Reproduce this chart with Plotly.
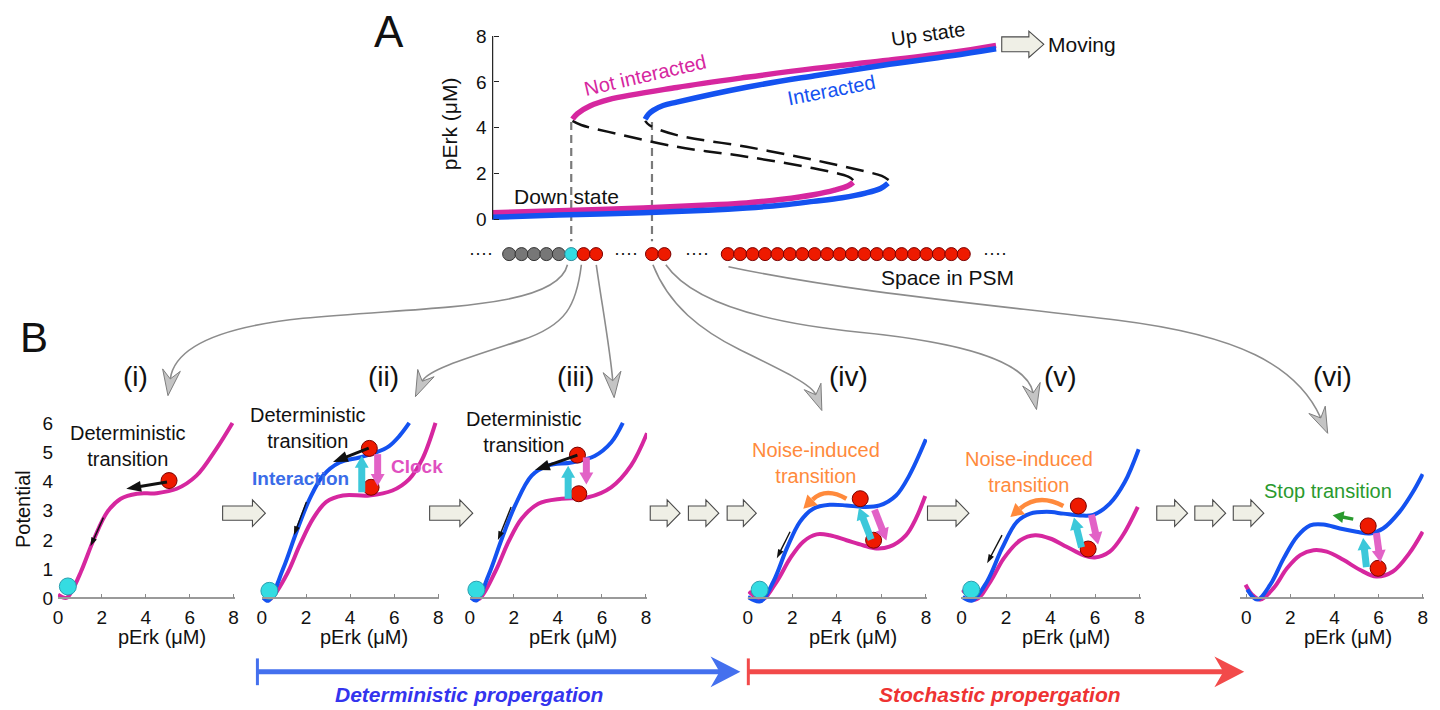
import math
import plotly.graph_objects as go

W, H = 1440, 710


def X(p):
    return p / W


def Y(p):
    return 1 - p / H


FONT = "Liberation Sans, Arial, Helvetica, sans-serif"
MAG = "#D6279F"
BLU = "#1452F0"
RED = "#EE1A00"
CYN = "#34DCE2"
ARR_CYAN = "#3CC8DA"
ARR_PINK = "#E262C6"
ORANGE = "#FF8A3C"
GREEN = "#2A9A2E"

# ---------------- Panel A : bifurcation diagram ----------------
# x = position along the PSM (cell diameters), y = pErk (uM)
a_mag_lo_x = [-0.35, 5.0, 11.8, 17.0, 20.1, 23.0, 25.5, 27.2, 28.3, 28.7]
a_mag_lo_y = [0.29, 0.38, 0.50, 0.63, 0.72, 0.88, 1.08, 1.28, 1.47, 1.62]
a_mag_mid_x = [28.7, 28.3, 25.5, 20.1, 14.5, 9.0, 6.8, 6.1]
a_mag_mid_y = [1.72, 1.87, 2.23, 2.74, 3.17, 3.82, 4.12, 4.30]
a_mag_up_x = [6.1, 6.5, 7.5, 9.0, 14.5, 20.1, 25.6, 31.1, 36.6, 40.2]
a_mag_up_y = [4.38, 4.62, 4.95, 5.23, 5.76, 6.20, 6.59, 6.92, 7.28, 7.59]

a_blu_lo_x = [-0.35, 5.0, 11.8, 17.0, 20.1, 23.0, 25.5, 27.8, 29.7, 30.9, 31.5]
a_blu_lo_y = [0.10, 0.19, 0.29, 0.40, 0.50, 0.63, 0.79, 0.95, 1.15, 1.35, 1.58]
a_blu_mid_x = [31.55, 31.0, 29.7, 25.6, 20.1, 14.5, 12.3, 11.95]
a_blu_mid_y = [1.72, 1.90, 2.09, 2.59, 3.17, 3.68, 4.11, 4.30]
a_blu_up_x = [11.95, 12.2, 12.6, 13.4, 14.5, 20.1, 25.6, 31.1, 36.6, 40.2]
a_blu_up_y = [4.37, 4.58, 4.76, 4.97, 5.12, 5.77, 6.27, 6.73, 7.14, 7.45]

a_yticks = [0, 2, 4, 6, 8]

# cells in the PSM row (positions in cell diameters)
cells_gray_x = [1, 2, 3, 4, 5]
cells_cyan_x = [6]
cells_red_x = [7, 8, 12.5, 13.5,
               18.6, 19.6, 20.6, 21.6, 22.6, 23.6, 24.6, 25.6, 26.6, 27.6,
               28.6, 29.6, 30.6, 31.6, 32.6, 33.6, 34.6, 35.6, 36.6, 37.6]
cells_row_level = -1.51
boundary_x = [6, 12.5]

# ---------------- Panel B : potential landscapes ----------------
b_xticks = [0, 2, 4, 6, 8]
b_yticks = [0, 1, 2, 3, 4, 5, 6]

b1_mag_x = [0.0, 0.38, 0.65, 1.05, 1.65, 2.25, 2.86, 3.6, 4.5, 5.41, 6.31, 7.2, 7.95]
b1_mag_y = [0.13, 0.02, 0.28, 0.92, 2.05, 2.96, 3.41, 3.58, 3.60, 3.75, 4.20, 5.10, 6.00]
b1_red = ([5.06], [4.03])
b1_cyan = ([0.45], [0.41])

b2_mag_x = [0.07, 0.37, 1.12, 1.72, 2.32, 2.92, 3.67, 4.87, 5.92, 6.68, 7.27, 7.87]
b2_mag_y = [0.02, -0.02, 0.81, 1.83, 2.73, 3.30, 3.52, 3.52, 3.69, 4.08, 4.76, 6.00]
b2_blu_x = [0.07, 0.29, 0.97, 1.57, 2.17, 2.77, 3.52, 4.42, 5.17, 5.77, 6.23, 6.68]
b2_blu_y = [0.02, -0.08, 1.03, 2.28, 3.41, 4.20, 4.65, 4.82, 4.99, 5.21, 5.55, 6.00]
b2_red = ([4.87, 4.95], [5.13, 3.80])
b2_cyan = ([0.34], [0.26])

b3_mag_x = [0.1, 0.41, 1.16, 1.76, 2.36, 3.11, 4.17, 5.37, 6.42, 7.32, 8.05]
b3_mag_y = [0.02, -0.02, 0.92, 1.94, 2.73, 3.24, 3.41, 3.46, 3.80, 4.54, 5.65]
b3_blu_x = [0.06, 0.30, 0.86, 1.46, 2.06, 2.81, 3.56, 4.62, 5.67, 6.42, 6.95]
b3_blu_y = [0.02, -0.07, 0.81, 2.05, 3.18, 4.20, 4.54, 4.65, 4.87, 5.33, 6.00]
b3_red = ([4.89, 4.95], [4.90, 3.58])
b3_cyan = ([0.30], [0.30])

b4_mag_x = [0.04, 0.63, 1.3, 1.9, 2.49, 3.09, 3.68, 4.43, 5.17, 5.77, 6.36, 7.1, 7.55, 7.97]
b4_mag_y = [0.24, -0.04, 0.58, 1.37, 1.94, 2.19, 2.16, 1.99, 1.82, 1.71, 1.77, 2.16, 2.73, 3.50]
b4_blu_x = [0.0, 0.56, 1.15, 1.75, 2.34, 2.94, 3.68, 4.43, 5.17, 5.92, 6.66, 7.25, 8.0]
b4_blu_y = [0.05, -0.10, 0.58, 1.71, 2.62, 3.07, 3.20, 3.18, 3.13, 3.18, 3.52, 4.20, 5.44]
b4_red = ([5.05, 5.65], [3.41, 1.99])
b4_cyan = ([0.53], [0.30])

b5_mag_x = [0.04, 0.63, 1.30, 1.90, 2.64, 3.31, 3.98, 4.72, 5.47, 5.99, 6.66, 7.25, 7.92]
b5_mag_y = [0.30, -0.04, 0.58, 1.37, 1.99, 2.16, 2.05, 1.77, 1.48, 1.40, 1.60, 2.16, 3.13]
b5_blu_x = [0.05, 0.48, 1.15, 1.82, 2.49, 3.09, 3.83, 4.58, 5.32, 5.92, 6.66, 7.33, 7.96]
b5_blu_y = [0.05, -0.07, 0.58, 1.71, 2.62, 2.90, 2.96, 2.90, 2.84, 2.86, 3.24, 3.97, 5.10]
b5_red = ([5.25, 5.69], [3.16, 1.69])
b5_cyan = ([0.44], [0.30])

b6_mag_x = [-0.03, 0.27, 0.64, 1.25, 1.85, 2.45, 3.05, 3.65, 4.40, 5.15, 5.90, 6.65, 7.39, 8.0]
b6_mag_y = [0.47, 0.13, -0.04, 0.36, 1.03, 1.48, 1.65, 1.60, 1.32, 0.98, 0.75, 0.92, 1.54, 2.28]
b6_blu_x = [0.05, 0.5, 1.09, 1.70, 2.30, 2.90, 3.50, 4.25, 5.00, 5.60, 6.20, 6.95, 7.55, 8.0]
b6_blu_y = [0.30, -0.04, 0.47, 1.37, 2.11, 2.50, 2.53, 2.39, 2.28, 2.22, 2.39, 2.96, 3.63, 4.25]
b6_red = ([5.53, 5.98], [2.48, 1.03])
b6_cyan = ([], [])

panel_labels = ["(i)", "(ii)", "(iii)", "(iv)", "(v)", "(vi)"]

# ---------------- figure ----------------
fig = go.Figure()


def add_line(x, y, xa, ya, color, width, dash=None):
    fig.add_trace(go.Scatter(
        x=x, y=y, xaxis=xa, yaxis=ya, mode="lines",
        line=dict(color=color, width=width, shape="spline", smoothing=1.0, dash=dash),
        hoverinfo="skip", showlegend=False))


def add_balls(pts, xa, ya, color, size, edge):
    if not pts[0]:
        return
    fig.add_trace(go.Scatter(
        x=pts[0], y=pts[1], xaxis=xa, yaxis=ya, mode="markers",
        marker=dict(size=size, color=color, line=dict(color=edge, width=1)),
        cliponaxis=False, hoverinfo="skip", showlegend=False))


# Panel A curves
add_line(a_mag_mid_x, a_mag_mid_y, "x", "y", "#111111", 2.5, "18px,9px")
add_line(a_blu_mid_x, a_blu_mid_y, "x", "y", "#111111", 2.5, "18px,9px")
add_line(a_mag_lo_x, a_mag_lo_y, "x", "y", MAG, 5.5)
add_line(a_mag_up_x, a_mag_up_y, "x", "y", MAG, 5.5)
add_line(a_blu_lo_x, a_blu_lo_y, "x", "y", BLU, 5.5)
add_line(a_blu_up_x, a_blu_up_y, "x", "y", BLU, 5.5)

add_balls((cells_gray_x, [cells_row_level] * len(cells_gray_x)), "x", "y", "#777777", 13, "#333333")
add_balls((cells_cyan_x, [cells_row_level] * len(cells_cyan_x)), "x", "y", CYN, 13, "#2A8A99")
add_balls((cells_red_x, [cells_row_level] * len(cells_red_x)), "x", "y", RED, 13, "#7A0000")

panels = [
    (b1_mag_x, b1_mag_y, None, None, b1_red, b1_cyan),
    (b2_mag_x, b2_mag_y, b2_blu_x, b2_blu_y, b2_red, b2_cyan),
    (b3_mag_x, b3_mag_y, b3_blu_x, b3_blu_y, b3_red, b3_cyan),
    (b4_mag_x, b4_mag_y, b4_blu_x, b4_blu_y, b4_red, b4_cyan),
    (b5_mag_x, b5_mag_y, b5_blu_x, b5_blu_y, b5_red, b5_cyan),
    (b6_mag_x, b6_mag_y, b6_blu_x, b6_blu_y, b6_red, b6_cyan),
]
for k, (mx, my, bx, by, red, cyan) in enumerate(panels):
    xa, ya = f"x{k + 2}", f"y{k + 2}"
    add_line(mx, my, xa, ya, MAG, 4)
    if bx is not None:
        add_line(bx, by, xa, ya, BLU, 4)
    add_balls(red, xa, ya, RED, 16, "#7A0000")
    add_balls(cyan, xa, ya, CYN, 17, "#2A9FAF")

# ---------------- axes ----------------
layout = dict(
    width=W, height=H, margin=dict(l=0, r=0, t=0, b=0),
    paper_bgcolor="white", plot_bgcolor="rgba(0,0,0,0)",
    showlegend=False, font=dict(family=FONT, color="#111111"),
)
layout["xaxis"] = dict(domain=[X(463.55), X(1013.55)], range=[-2.5, 41.5], visible=False, fixedrange=True)
layout["yaxis"] = dict(domain=[Y(261.1), Y(26.4)], range=[-1.85, 8.3], anchor="free", position=X(490.7),
                       showline=False, showgrid=False, zeroline=False, ticks="inside", ticklen=5,
                       tickcolor="#222", tickvals=a_yticks, tickfont=dict(size=19, color="#111"),
                       ticklabelstandoff=6, fixedrange=True)

geo = [(53.3, 22.09, 0.0), (258.5, 22.2, 0.0), (467.7, 22.16, 0.0),
       (747.5, 22.4, 0.0), (962.5, 22.4, 0.0), (1249.0, 22.2, -0.3)]
for k, (x0, s, xmin) in enumerate(geo):
    n = k + 2
    xmax = 8.05
    layout[f"xaxis{n}"] = dict(
        domain=[X(x0 + xmin * s), X(x0 + xmax * s)], range=[xmin, xmax],
        anchor="free", position=Y(600.5), showline=True, linecolor="#9A9A9A", linewidth=1.5,
        ticks="inside", ticklen=4, tickcolor="#8A8A8A", tickwidth=1.2, tickvals=b_xticks,
        tickfont=dict(size=19, color="#111"), showgrid=False, zeroline=False, fixedrange=True,
        ticklabelstandoff=2)
    layout[f"yaxis{n}"] = dict(
        domain=[Y(607.9), Y(413.2)], range=[-0.25, 6.35], anchor=f"x{n}",
        showline=False, showgrid=False, zeroline=False, ticks="",
        tickvals=b_yticks, showticklabels=(k == 0), tickfont=dict(size=19, color="#111"),
        ticklabelstandoff=4, fixedrange=True)

# ---------------- shapes ----------------
shapes = []


def P(a, b):
    return f"{X(a):.5f},{Y(b):.5f}"


def seg(x0, y0, x1, y1, color, width, dash=None, layer="above"):
    shapes.append(dict(type="line", xref="paper", yref="paper", x0=X(x0), y0=Y(y0), x1=X(x1), y1=Y(y1),
                       line=dict(color=color, width=width, dash=dash), layer=layer))


def poly(pts, fill, lc=None, lw=0, layer="above"):
    path = "M " + " L ".join(P(a, b) for a, b in pts) + " Z"
    shapes.append(dict(type="path", xref="paper", yref="paper", path=path, fillcolor=fill,
                       line=dict(color=lc or fill, width=lw), layer=layer))


def arrow(x0, y0, x1, y1, color, w, hl, hw):
    dx, dy = x1 - x0, y1 - y0
    L = math.hypot(dx, dy)
    ux, uy = dx / L, dy / L
    nx, ny = -uy, ux
    bx, by = x1 - ux * hl, y1 - uy * hl
    seg(x0, y0, bx + ux, by + uy, color, w)
    poly([(x1, y1), (bx + nx * hw / 2, by + ny * hw / 2), (bx - nx * hw / 2, by - ny * hw / 2)], color)


def curved(start, segs, color, w, head_len, head_w, notch=0.0, head_fill=None, head_line=None, head_lw=0):
    tip = segs[-1][-1]
    c2 = segs[-1][-2]
    dx, dy = tip[0] - c2[0], tip[1] - c2[1]
    L = math.hypot(dx, dy)
    ux, uy = dx / L, dy / L
    nx, ny = -uy, ux
    back = head_len - notch
    endp = (tip[0] - ux * back, tip[1] - uy * back)
    path = "M " + P(*start)
    for i, sg in enumerate(segs):
        pts = list(sg)
        if i == len(segs) - 1:
            pts[-1] = endp
        if len(pts) == 3:
            path += " C " + " ".join(P(*q) for q in pts)
        else:
            path += " Q " + " ".join(P(*q) for q in pts)
    shapes.append(dict(type="path", xref="paper", yref="paper", path=path,
                       line=dict(color=color, width=w), layer="above"))
    bx, by = tip[0] - ux * head_len, tip[1] - uy * head_len
    pts = [tip, (bx + nx * head_w / 2, by + ny * head_w / 2)]
    if notch:
        pts.append(endp)
    pts.append((bx - nx * head_w / 2, by - ny * head_w / 2))
    poly(pts, head_fill or color, head_line, head_lw)


def block(xl, xr, yc, sh=7.2, hh=13.3, hl=13.0):
    poly([(xl, yc - sh), (xr - hl, yc - sh), (xr - hl, yc - hh), (xr, yc), (xr - hl, yc + hh),
          (xr - hl, yc + sh), (xl, yc + sh)], "#EFEFE6", "#4A4A4A", 1.1)


# Panel A axis line and boundary (dashed) lines
shapes.append(dict(type="line", xref="paper", yref="y", x0=X(490.7), x1=X(490.7), y0=0, y1=8,
                   line=dict(color="#222", width=1.2), layer="above"))
for bxv in boundary_x:
    shapes.append(dict(type="line", xref="x", yref="y", x0=bxv, x1=bxv, y0=4.25, y1=-0.95,
                       line=dict(color="#7A7A7A", width=2.2, dash="8px,5px"), layer="below"))

# grey curved connectors from the PSM row to panels (i)-(vi)
G = "#8C8C8C"
conn = [
    ((566, 264), [((555, 310), (420, 306), (300, 318)), ((205, 328), (170, 352), (164, 396))]),
    ((580, 264), [((575, 305), (565, 325), (520, 340)), ((465, 358), (425, 370), (413, 397))]),
    ((595, 264), [((600, 300), (609, 350), (613, 398))]),
    ((652, 264), [((668, 305), (700, 330), (740, 350)), ((785, 372), (812, 385), (822, 411))]),
    ((665, 264), [((690, 300), (760, 322), (860, 332)), ((960, 342), (1028, 360), (1038, 410))]),
    ((728, 266), [((850, 292), (1000, 305), (1120, 320)), ((1240, 335), (1300, 365), (1331, 434))]),
]
for st, sg in conn:
    curved(st, sg, G, 1.6, 26, 18, notch=9, head_fill="#C4C4C4", head_line="#7E7E7E", head_lw=1)

# block arrows
for xl, xr in [(219, 262), (427.3, 470.7), (649.3, 679.3), (687.7, 718.3), (726.7, 756),
               (928.3, 970), (1159, 1190), (1197.3, 1228.3), (1236, 1266.7)]:
    block(xl, xr, 514.5)
block(1003, 1045.3, 41.7, sh=7.5, hh=13.3, hl=15)

# arrows inside panel B
K = "#111111"
arrow(163, 483, 122, 490, K, 3, 15, 11)
arrow(99, 519, 86, 548, K, 1.4, 9, 6)

arrow(366, 449, 330, 463, K, 3, 15, 11)
arrow(303.3, 503.3, 290.7, 536.7, K, 1.4, 9, 6)
arrow(359, 493.5, 359, 456.7, ARR_CYAN, 7, 12, 14)
arrow(375, 455, 375, 487, ARR_PINK, 7, 12, 14)

arrow(576, 456, 533.3, 471, K, 3, 15, 11)
arrow(509.3, 508.3, 496, 541.7, K, 1.4, 9, 6)
arrow(566.7, 500, 566.7, 466.7, ARR_CYAN, 7, 12, 14)
arrow(585, 458.3, 585, 485.5, ARR_PINK, 7, 12, 14)

arrow(790, 533.3, 776.7, 560, K, 1.4, 9, 6)
arrow(871.7, 541, 859.3, 509, ARR_CYAN, 7, 12, 14)
arrow(875, 511, 887, 542, ARR_PINK, 7, 12, 14)
curved((846.7, 500), [((826, 488), (803.3, 510))], ORANGE, 4.5, 13, 15)

arrow(1003.3, 536.7, 988.3, 565, K, 1.4, 9, 6)
arrow(1083.3, 549, 1075.7, 519, ARR_CYAN, 7, 12, 14)
arrow(1093.3, 516, 1100, 546, ARR_PINK, 7, 12, 14)
curved((1065, 507.3), [((1040, 494), (1011.7, 518.3))], ORANGE, 4.5, 13, 15)

arrow(1356.7, 520.5, 1336, 516.5, GREEN, 3.5, 11, 12)
arrow(1370, 569, 1366.7, 539.5, ARR_CYAN, 7, 12, 14)
arrow(1380, 534.5, 1384, 564, ARR_PINK, 7, 12, 14)

# bottom propagation arrows
BA = "#4470EE"
RA = "#F24A4A"
seg(254, 661, 254, 688, BA, 3)
seg(254, 674.5, 722, 674.5, BA, 5)
poly([(740, 674.5), (710, 659), (719, 674.5), (710, 690)], BA)
seg(748, 661, 748, 688, RA, 3)
seg(748, 674.5, 1228, 674.5, RA, 5)
poly([(1247, 674.5), (1217, 659), (1226, 674.5), (1217, 690)], RA)

layout["shapes"] = shapes

# ---------------- text ----------------
ann = []


def txt(s, x, y, size=20, color="#111111", angle=0, xanchor="center"):
    ann.append(dict(text=s, x=X(x), y=Y(y), xref="paper", yref="paper", showarrow=False,
                    xanchor=xanchor, yanchor="middle", textangle=angle, align="center",
                    font=dict(family=FONT, size=size, color=color)))


txt("A", 386, 29, 44)
txt("B", 29, 337, 42)
txt("pErk (μM)", 448, 122, 21, angle=-90)
txt("Not interacted", 645, 73, 20, MAG, angle=-13)
txt("Interacted", 832, 88, 20, BLU, angle=-11)
txt("Up state", 929, 31, 20, angle=-8)
txt("Down state", 565, 195, 21)
txt("Moving", 1084, 42, 21)
txt("Space in PSM", 948, 277, 21)
for xd in [479, 624.5, 696, 996]:
    txt("····", xd, 252, 18)

for lab, xl in zip(panel_labels, [131, 381, 574, 849, 1062, 1336]):
    txt(lab, xl, 377, 28)

txt("Potential", 17.5, 510, 20, angle=-90)
for xc in [157.5, 361.7, 571.7, 853, 1068, 1351.7]:
    txt("pErk (μM)", xc, 639, 20)

txt("Deterministic<br>transition", 124, 446.5, 20)
txt("Deterministic<br>transition", 305, 429, 20)
txt("Deterministic<br>transition", 522, 432.5, 20)
txt("<b>Interaction</b>", 297, 480, 19, "#3A6CE8")
txt("<b>Clock</b>", 415, 467, 19, "#E050C0")
txt("Noise-induced<br>transition", 816.5, 464, 20, ORANGE)
txt("Noise-induced<br>transition", 1030, 472.5, 20, ORANGE)
txt("Stop transition", 1331.7, 491.7, 20, GREEN)

txt("<b><i>Deterministic propergation</i></b>", 467, 697, 21, "#3434EE")
txt("<b><i>Stochastic propergation</i></b>", 1001, 697, 21, "#EE3333")

layout["annotations"] = ann
fig.update_layout(**layout)
fig.write_html(
    "out.html",
    config={"displayModeBar": False},
    post_script="document.body.style.margin='0';document.body.style.padding='0';"
                "document.body.style.overflow='hidden';",
)
